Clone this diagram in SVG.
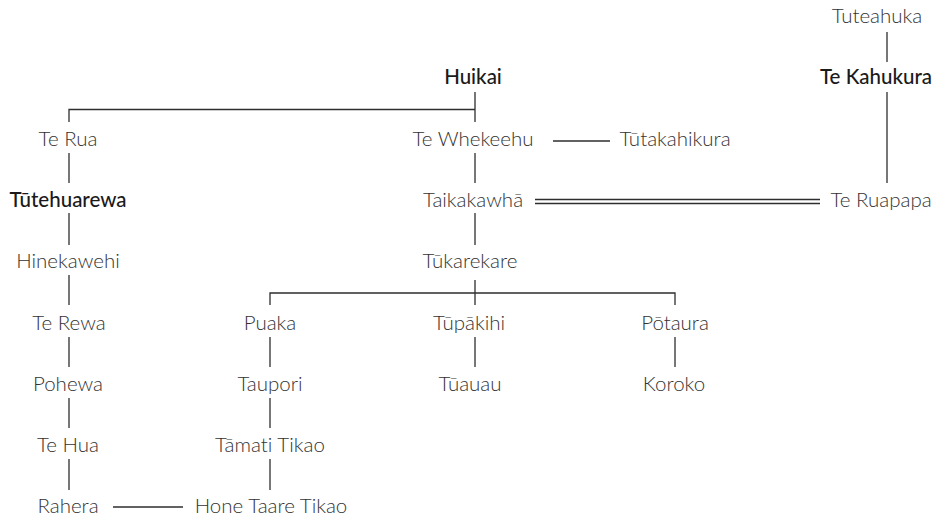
<svg xmlns="http://www.w3.org/2000/svg" width="938" height="521" viewBox="0 0 938 521">
<style>
  text { font-family: Lato, "Liberation Sans", sans-serif; font-size: 20.5px; font-weight: 300; fill: #333333; text-anchor: middle; font-variant-ligatures: none; }
  text.b { font-weight: 500; fill: #1a1a1a; }
  .c line, .c path { stroke: #2e2e2e; stroke-width: 1.3; fill: none; }
</style>
<rect width="938" height="521" fill="#ffffff"/>
<g class="c" id="connectors">
  <line x1="887" y1="32" x2="887" y2="62"/>
  <line x1="887" y1="92" x2="887" y2="183"/>
  <line x1="475" y1="92" x2="475" y2="122"/>
  <path d="M69 122 V109.5 H475"/>
  <line x1="553" y1="141" x2="610" y2="141"/>
  <line x1="475" y1="153" x2="475" y2="183"/>
  <line x1="69" y1="153" x2="69" y2="183"/>
  <line x1="535" y1="199.5" x2="820" y2="199.5"/>
  <line x1="535" y1="203.5" x2="820" y2="203.5"/>
  <line x1="69" y1="213" x2="69" y2="245"/>
  <line x1="475" y1="213" x2="475" y2="245"/>
  <line x1="69" y1="275" x2="69" y2="305"/>
  <line x1="475" y1="280" x2="475" y2="305"/>
  <path d="M270 305 V293 H675 V305"/>
  <line x1="69" y1="337" x2="69" y2="367"/>
  <line x1="270" y1="337" x2="270" y2="367"/>
  <line x1="475" y1="337" x2="475" y2="367"/>
  <line x1="675" y1="337" x2="675" y2="367"/>
  <line x1="69" y1="398" x2="69" y2="428"/>
  <line x1="270" y1="398" x2="270" y2="428"/>
  <line x1="69" y1="459" x2="69" y2="490"/>
  <line x1="270" y1="459" x2="270" y2="490"/>
  <line x1="113" y1="507" x2="183" y2="507"/>
</g>
<g id="tuteahuka"><text x="877" y="23">Tuteahuka</text></g>
<g id="te-kahukura"><text class="b" x="876" y="84">Te Kahukura</text></g>
<g id="huikai"><text class="b" x="473" y="84">Huikai</text></g>
<g id="te-rua"><text x="68" y="146">Te Rua</text></g>
<g id="te-whekeehu"><text x="473" y="146">Te Whekeehu</text></g>
<g id="tutakahikura"><text x="675" y="146">Tūtakahikura</text></g>
<g id="tutehuarewa"><text class="b" x="68" y="207">Tūtehuarewa</text></g>
<g id="taikakawha"><text x="473" y="207">Taikakawhā</text></g>
<g id="te-ruapapa"><text x="881" y="207">Te Ruapapa</text></g>
<g id="hinekawehi"><text x="68" y="268">Hinekawehi</text></g>
<g id="tukarekare"><text x="470" y="268">Tūkarekare</text></g>
<g id="te-rewa"><text x="69" y="330">Te Rewa</text></g>
<g id="puaka"><text x="270" y="330">Puaka</text></g>
<g id="tupakihi"><text x="469" y="330">Tūpākihi</text></g>
<g id="potaura"><text x="675" y="330">Pōtaura</text></g>
<g id="pohewa"><text x="68" y="391">Pohewa</text></g>
<g id="taupori"><text x="270" y="391">Taupori</text></g>
<g id="tuauau"><text x="470" y="391">Tūauau</text></g>
<g id="koroko"><text x="674" y="391">Koroko</text></g>
<g id="te-hua"><text x="68" y="452">Te Hua</text></g>
<g id="tamati-tikao"><text x="270" y="452">Tāmati Tikao</text></g>
<g id="rahera"><text x="68" y="513">Rahera</text></g>
<g id="hone-taare-tikao"><text x="271" y="513">Hone Taare Tikao</text></g>
</svg>
